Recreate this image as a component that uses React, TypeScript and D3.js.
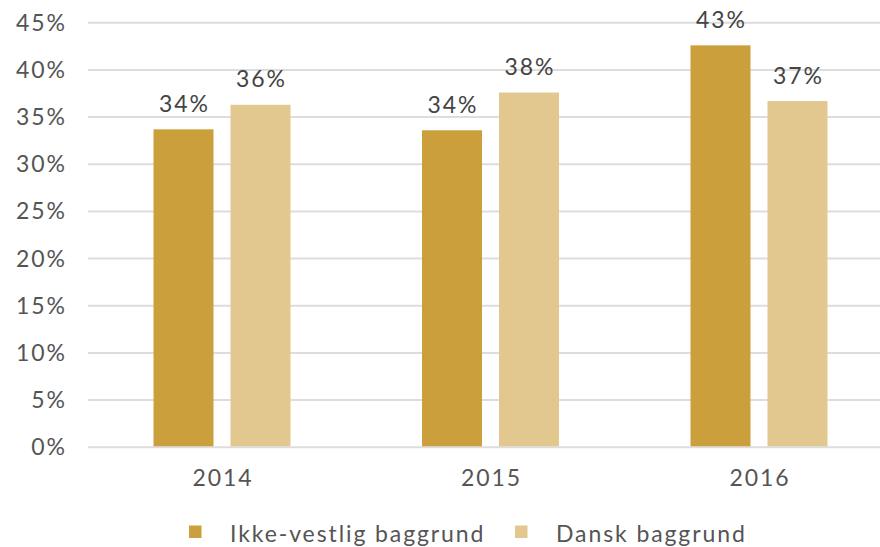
import React from "react";
import * as d3 from "d3";

const categories = ["2014", "2015", "2016"];
const seriesNames = ["Ikke-vestlig baggrund", "Dansk baggrund"];
const ikkeVestlig = [33.7, 33.6, 42.6];
const dansk = [36.3, 37.6, 36.7];
const labelsIkke = ["34%", "34%", "43%"];
const labelsDansk = ["36%", "38%", "37%"];
const yTicks = [0, 5, 10, 15, 20, 25, 30, 35, 40, 45];
const colors = ["#CBA03C", "#E2C88F"];

const W = 880;
const H = 547;
const FONT = "Lato, 'Open Sans', sans-serif";
const TEXT = "#555555";
const LS = 1.9;

export default function App() {
  const y = d3.scaleLinear().domain([0, 45]).range([447.3, 22.7]);
  const x0 = d3.scaleBand<string>().domain(categories).range([87.75, 893.25]);
  const x1 = d3
    .scaleBand<string>()
    .domain(seriesNames)
    .range([-68.5, 68.5])
    .paddingInner(17 / 77);
  const series = [
    { name: seriesNames[0], values: ikkeVestlig, labels: labelsIkke, color: colors[0] },
    { name: seriesNames[1], values: dansk, labels: labelsDansk, color: colors[1] },
  ];
  const legendX = [189, 515];

  return (
    <svg width={W} height={H} style={{ position: "absolute", left: 0, top: 0 }} fontFamily={FONT} letterSpacing={LS}>
      <rect width={W} height={H} fill="#ffffff" />
      {yTicks.map((t) => (
        <g key={t}>
          <line x1={88} x2={880} y1={y(t)} y2={y(t)} stroke="#dddddd" strokeWidth={2} />
          <text x={65 + LS} y={y(t) + 8} textAnchor="end" fontSize={23} fill={TEXT}>
            {t}%
          </text>
        </g>
      ))}
      {categories.map((c, i) => {
        const cx = x0(c)! + x0.bandwidth() / 2;
        return (
          <g key={c}>
            {series.map((s) => {
              const bx = cx + x1(s.name)!;
              const top = y(s.values[i]);
              return (
                <g key={s.name}>
                  <rect x={bx} y={top} width={x1.bandwidth()} height={y(0) - top - 1} fill={s.color} />
                  <text
                    x={bx + x1.bandwidth() / 2 + LS / 2}
                    y={top - 17.5}
                    textAnchor="middle"
                    fontSize={23}
                    fill="#444444"
                  >
                    {s.labels[i]}
                  </text>
                </g>
              );
            })}
            <text x={cx + LS / 2} y={486} textAnchor="middle" fontSize={23} fill={TEXT}>
              {c}
            </text>
          </g>
        );
      })}
      {series.map((s, i) => (
        <g key={s.name}>
          <rect x={legendX[i]} y={525.5} width={12.5} height={12.5} fill={s.color} />
          <text x={legendX[i] + 41} y={541.5} fontSize={23} fill={TEXT}>
            {s.name}
          </text>
        </g>
      ))}
    </svg>
  );
}
